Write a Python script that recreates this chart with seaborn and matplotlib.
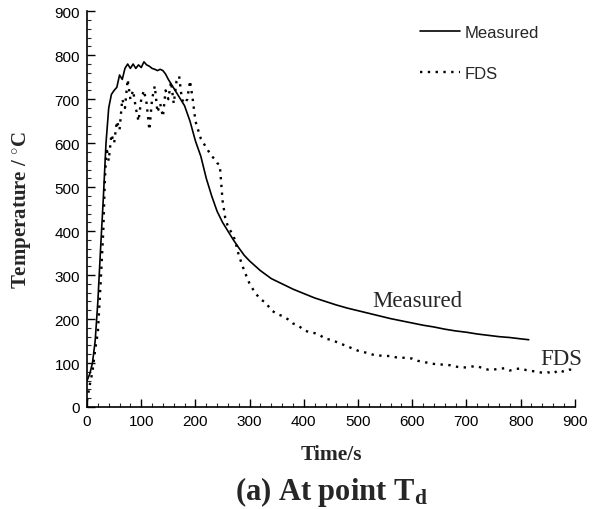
import matplotlib
matplotlib.use("Agg")
import matplotlib.pyplot as plt
import seaborn as sns
import pandas as pd
from matplotlib.ticker import MultipleLocator

measured_t = [0, 5, 10, 15, 20, 25, 30, 35, 40, 45, 50, 55, 60, 65, 70, 75, 80, 85, 90, 95,
              100, 105, 110, 115, 120, 125, 130, 135, 140, 145, 150, 160, 170, 180, 190, 200,
              210, 220, 230, 240, 250, 260, 270, 280, 290, 300, 320, 340, 360, 380, 400, 420,
              440, 460, 480, 500, 520, 540, 560, 580, 600, 620, 640, 660, 680, 700, 720, 740,
              760, 780, 800, 815]
measured_v = [60, 75, 100, 150, 240, 360, 473, 600, 680, 711, 720, 727, 755, 745, 770, 780, 770, 780, 770, 778,
              772, 785, 778, 775, 770, 768, 765, 768, 765, 757, 745, 725, 705, 685, 650, 605,
              570, 520, 480, 445, 420, 400, 380, 362, 345, 332, 310, 292, 280, 268, 258, 248,
              240, 232, 225, 219, 213, 207, 201, 196, 191, 186, 182, 177, 173, 170, 166, 163,
              160, 158, 155, 153]

fds_t = [0, 5, 10, 15, 20, 25, 30, 33, 36, 40, 45, 50, 55, 60, 65, 70, 75, 80, 85, 90,
         95, 100, 105, 110, 115, 120, 125, 130, 135, 140, 145, 150, 155, 160, 165, 170, 175, 180,
         185, 190, 195, 200, 205, 210, 215, 220, 225, 230, 235, 240, 245, 250, 255, 260, 265,
         270, 275, 280, 290, 300, 310, 320, 330, 340, 350, 360, 370, 380, 390, 400, 410, 420,
         430, 440, 450, 460, 470, 480, 490, 500, 510, 520, 530, 540, 550, 560, 570, 580, 590,
         600, 610, 620, 630, 640, 650, 660, 670, 680, 690, 700, 710, 720, 730, 740, 750, 760,
         770, 780, 790, 800, 810, 820, 830, 840, 850, 860, 870, 880, 890, 900]
fds_v = [15, 50, 80, 130, 170, 280, 400, 520, 590, 560, 620, 600, 650, 630, 700, 680, 745, 700, 720, 680,
         650, 700, 720, 690, 630, 700, 730, 670, 690, 660, 720, 700, 740, 690, 740, 752, 700, 690,
         700, 742, 700, 650, 630, 610, 600, 590, 580, 570, 565, 555, 550, 470, 430, 410, 400,
         390, 370, 345, 310, 280, 260, 245, 237, 220, 212, 207, 200, 190, 185, 175, 170, 168,
         163, 155, 153, 148, 143, 138, 133, 128, 125, 122, 118, 117, 116, 116, 113, 112, 112,
         110, 105, 103, 100, 98, 97, 96, 95, 92, 90, 90, 92, 93, 88, 85, 85, 87,
         88, 83, 86, 88, 84, 82, 80, 78, 79, 76, 84, 80, 85, 84]

df_m = pd.DataFrame({"t": measured_t, "v": measured_v})
df_f = pd.DataFrame({"t": fds_t, "v": fds_v})

sns.set_style("ticks")
plt.rcParams["font.family"] = ["Liberation Sans", "DejaVu Sans"]
plt.rcParams["mathtext.fontset"] = "custom"
plt.rcParams["mathtext.rm"] = "Liberation Serif"
plt.rcParams["mathtext.bf"] = "Liberation Serif:weight=bold"
plt.rcParams["mathtext.it"] = "Liberation Serif:italic"

fig = plt.figure(figsize=(5.92, 5.10), dpi=100)
ax = fig.add_axes([0.147, 0.2, 0.824, 0.776])

sns.lineplot(data=df_m, x="t", y="v", ax=ax, color="black", linewidth=1.2,
             label="Measured", estimator=None, sort=False)
sns.lineplot(data=df_f, x="t", y="v", ax=ax, color="black", linewidth=1.7,
             linestyle=(0, (1, 2.3)), label="FDS", estimator=None, sort=False)

ax.set_xlim(0, 900)
ax.set_ylim(0, 900)
ax.xaxis.set_major_locator(MultipleLocator(100))
ax.xaxis.set_minor_locator(MultipleLocator(20))
ax.yaxis.set_major_locator(MultipleLocator(100))
ax.yaxis.set_minor_locator(MultipleLocator(20))
ax.tick_params(which="major", direction="in", length=6, width=1, labelsize=11, colors="black", pad=5)
ax.tick_params(which="minor", direction="in", length=3, width=0.8)
for s in ["top", "right"]:
    ax.spines[s].set_visible(False)
for s in ["left", "bottom"]:
    ax.spines[s].set_linewidth(1.2)
    ax.spines[s].set_color("black")

ax.set_xlabel("Time/s", fontfamily="Liberation Serif", fontweight="bold", fontsize=15.5)
ax.set_ylabel(r"Temperature / $^{\circ}$C", fontfamily="Liberation Serif", fontweight="bold",
              fontsize=15)
ax.xaxis.set_label_coords(0.5, -0.093)
ax.yaxis.set_label_coords(-0.111, 0.5)

ax.text(610, 229, "Measured", fontfamily="Liberation Serif", fontsize=16.4, ha="center", va="baseline")
ax.text(874, 98, "FDS", fontfamily="Liberation Serif", fontsize=16.4, ha="center", va="baseline")

leg = ax.legend(loc="upper left", frameon=False, fontsize=12, labelspacing=1.57,
                handlelength=2.4, handletextpad=0.3, borderaxespad=0,
                bbox_to_anchor=(0.668, 0.982))

fig.text(0.559, 0.0196, r"(a) At point T$_{\mathbf{d}}$", fontfamily="Liberation Serif", fontweight="bold",
         fontsize=22, ha="center", va="baseline")

fig.savefig("out.png", dpi=100)
